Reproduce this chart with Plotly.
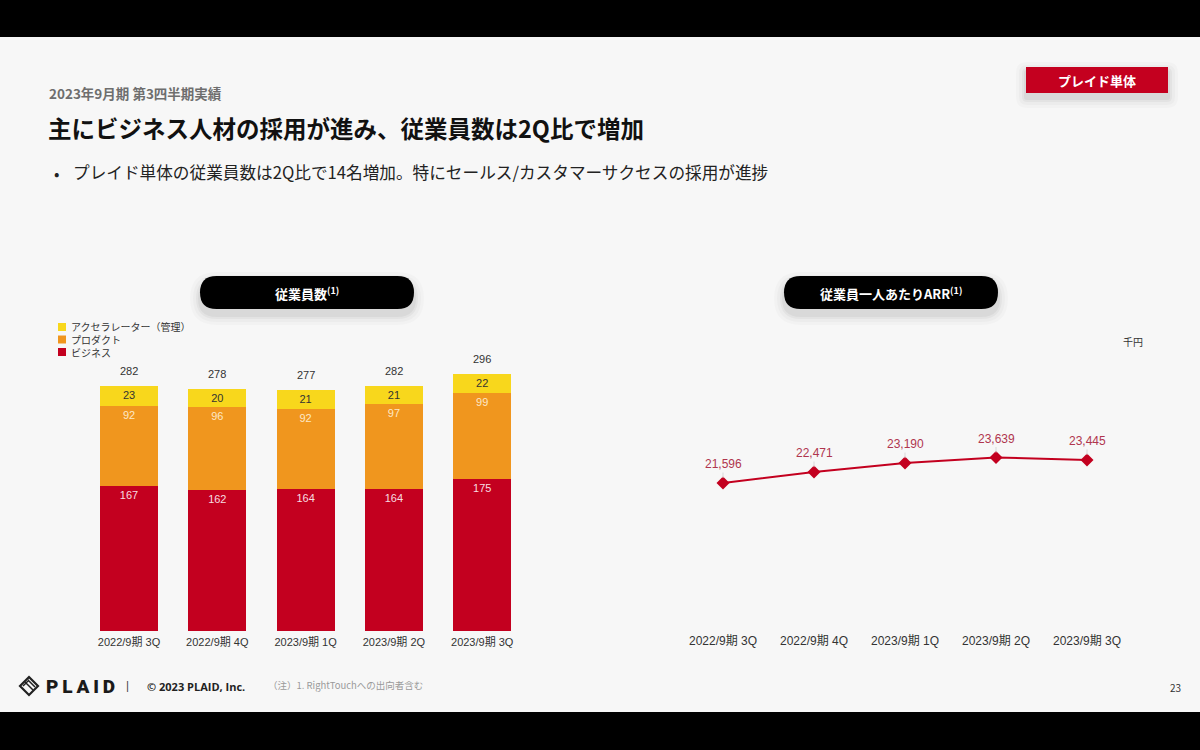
import plotly.graph_objects as go

W, H = 1200, 750


def X(px):
    return px / W


def Y(py):
    return 1 - py / H


# ---------------- data ----------------
categories = ["2022/9期 3Q", "2022/9期 4Q", "2023/9期 1Q", "2023/9期 2Q", "2023/9期 3Q"]
business = [167, 162, 164, 164, 175]
product = [92, 96, 92, 97, 99]
accelerator = [23, 20, 21, 21, 22]
totals = [282, 278, 277, 282, 296]
arr_per_employee = [21596, 22471, 23190, 23639, 23445]
series_names = ["ビジネス", "プロダクト", "アクセラレーター（管理）"]

# ---------------- styles ----------------
RED = "#c3001f"
ORANGE = "#f0961e"
YELLOW = "#f8d71c"
NUMF = "Liberation Sans, Arial, Noto Sans CJK JP"
JPF = "Noto Sans CJK JP"
BG = "#f7f7f7"

fig = go.Figure()

bar_specs = [
    (series_names[0], business, RED, "#f7dde1"),
    (series_names[1], product, ORANGE, "#fde8c6"),
    (series_names[2], accelerator, YELLOW, "#333333"),
]
for name, vals, col, tcol in bar_specs:
    fig.add_trace(go.Bar(
        x=categories, y=vals, name=name, marker=dict(color=col, line=dict(width=0)),
        width=0.657, text=[str(v) for v in vals], textposition="inside",
        insidetextanchor="end", constraintext="none", textangle=0,
        textfont=dict(family=NUMF, size=11, color=tcol),
        xaxis="x", yaxis="y", showlegend=False, hoverinfo="skip",
    ))

fig.add_trace(go.Scatter(
    x=categories, y=arr_per_employee, mode="lines+markers",
    line=dict(color=RED, width=2),
    marker=dict(symbol="diamond", size=10, color=RED),
    xaxis="x2", yaxis="y2", showlegend=False, hoverinfo="skip",
))

annotations = []
shapes = []


def ptext(px, py, text, size, color, family=JPF, xanchor="left", weight=None):
    f = dict(family=family, size=size, color=color)
    if weight is not None:
        f["weight"] = weight
    annotations.append(dict(x=X(px), y=Y(py), xref="paper", yref="paper", text=text,
                            showarrow=False, xanchor=xanchor, yanchor="middle", font=f))


# totals above bars
for c, t in zip(categories, totals):
    annotations.append(dict(x=c, y=t, xref="x", yref="y", text=str(t), showarrow=False,
                            xanchor="center", yanchor="bottom", yshift=7,
                            font=dict(family=NUMF, size=11, color="#333333")))

# line labels
for c, v in zip(categories, arr_per_employee):
    annotations.append(dict(x=c, y=v, xref="x2", yref="y2", text=f"{v:,}", showarrow=True,
                            arrowhead=0, arrowwidth=1, arrowcolor="#d9d9d9", ax=0, ay=-19,
                            standoff=5,
                            font=dict(family=NUMF, size=12, color="#b0354e")))


def rrect(x0, y0, x1, y1, r):
    pts = []
    pts.append(f"M {X(x0 + r)},{Y(y0)}")
    pts.append(f"L {X(x1 - r)},{Y(y0)}")
    pts.append(f"Q {X(x1)},{Y(y0)} {X(x1)},{Y(y0 + r)}")
    pts.append(f"L {X(x1)},{Y(y1 - r)}")
    pts.append(f"Q {X(x1)},{Y(y1)} {X(x1 - r)},{Y(y1)}")
    pts.append(f"L {X(x0 + r)},{Y(y1)}")
    pts.append(f"Q {X(x0)},{Y(y1)} {X(x0)},{Y(y1 - r)}")
    pts.append(f"L {X(x0)},{Y(y0 + r)}")
    pts.append(f"Q {X(x0)},{Y(y0)} {X(x0 + r)},{Y(y0)}")
    pts.append("Z")
    return " ".join(pts)


def shadow(x0, y0, x1, y1, r, dy=6):
    for g, a in [(10, 0.018), (7, 0.025), (4, 0.035), (2, 0.045)]:
        shapes.append(dict(type="path", xref="paper", yref="paper", layer="below",
                           path=rrect(x0 - g, y0 - g + dy, x1 + g, y1 + g + dy, r + g),
                           fillcolor=f"rgba(0,0,0,{a})", line=dict(width=0)))


# black bands
shapes.append(dict(type="rect", xref="paper", yref="paper", x0=0, x1=1, y0=Y(37), y1=1,
                   fillcolor="#000000", line=dict(width=0), layer="below"))
shapes.append(dict(type="rect", xref="paper", yref="paper", x0=0, x1=1, y0=0, y1=Y(712),
                   fillcolor="#000000", line=dict(width=0), layer="below"))

# pills
for (x0, x1, label) in [(200, 414, "従業員数<sup>(1)</sup>"), (784, 998, "従業員一人あたりARR<sup>(1)</sup>")]:
    shadow(x0, 276, x1, 309, 16.5)
    shapes.append(dict(type="path", xref="paper", yref="paper", path=rrect(x0, 276, x1, 309, 16.5),
                       fillcolor="#000000", line=dict(width=0)))
    ptext((x0 + x1) / 2, 293, f"<b>{label}</b>", 13, "#ffffff", xanchor="center")

# badge
shadow(1026, 67, 1168, 93, 1, dy=5)
shapes.append(dict(type="rect", xref="paper", yref="paper", x0=X(1026), x1=X(1168), y0=Y(93), y1=Y(67),
                   fillcolor="#c4001f", line=dict(width=0)))
ptext(1097, 80, "<b>プレイド単体</b>", 13, "#ffffff", xanchor="center")

# header texts
ptext(47, 93, "<b>2023年9月期 第3四半期実績</b>", 13.5, "#6e6e6e")
ptext(46, 128, "<b>主にビジネス人材の採用が進み、従業員数は2Q比で増加</b>", 23.5, "#111111")
ptext(52, 173, "•", 16, "#222222")
ptext(71, 172, "プレイド単体の従業員数は2Q比で14名増加。特にセールス/カスタマーサクセスの採用が進捗",
      16.65, "#222222")

# manual legend
legend_items = [(series_names[2], YELLOW, 327), (series_names[1], ORANGE, 339.5), (series_names[0], RED, 352)]
for name, col, yc in legend_items:
    shapes.append(dict(type="rect", xref="paper", yref="paper", x0=X(58), x1=X(66), y0=Y(yc + 4), y1=Y(yc - 4),
                       fillcolor=col, line=dict(width=0)))
    ptext(69, yc, name, 10, "#333333")

# unit
ptext(1133, 342, "千円", 10, "#333333", xanchor="center")

# footer
shapes.append(dict(type="path", xref="paper", yref="paper",
                   path=f"M {X(29)},{Y(677)} L {X(38)},{Y(686)} L {X(29)},{Y(695)} L {X(20)},{Y(686)} Z",
                   fillcolor="rgba(0,0,0,0)", line=dict(color="#222222", width=2.2)))
shapes.append(dict(type="path", xref="paper", yref="paper",
                   path=f"M {X(25)},{Y(682)} L {X(33)},{Y(690)} M {X(28)},{Y(680)} L {X(35)},{Y(687)} M {X(23)},{Y(686)} L {X(29)},{Y(680)}",
                   line=dict(color="#222222", width=1.5)))
ptext(44, 686, "P\u2009L\u2009A\u2009I\u2009D", 19, "#1a1a1a", family="Roboto", weight=900)
ptext(127, 685, "|", 12, "#333333", family="Lato", xanchor="center")
ptext(145, 686, "<b>© 2023 PLAID, Inc.</b>", 11, "#222222", family="Open Sans")
ptext(266, 685, "（注）1. RightTouchへの出向者含む", 9.5, "#9a9a9a")
ptext(1175, 687, "23", 10, "#333333", xanchor="center")

axis_common = dict(type="category", showgrid=False, zeroline=False, showline=False, ticks="",
                   range=[-0.5, 4.5], fixedrange=True)

fig.update_layout(
    width=W, height=H, margin=dict(l=0, r=0, t=0, b=0),
    paper_bgcolor=BG, plot_bgcolor="rgba(0,0,0,0)",
    barmode="stack", bargap=0.343,
    showlegend=False,
    xaxis=dict(domain=[X(84.85), X(526.35)], anchor="y", ticklabelstandoff=3,
               tickfont=dict(family=NUMF, size=11, color="#333333"), **axis_common),
    yaxis=dict(domain=[Y(631), Y(353)], range=[0, 320], visible=False, anchor="x"),
    xaxis2=dict(domain=[X(677.5), X(1132.5)], anchor="y2", ticklabelstandoff=1,
                tickfont=dict(family=NUMF, size=12, color="#333333"), **axis_common),
    yaxis2=dict(domain=[Y(631), Y(353)], range=[9737, 32012], visible=False, anchor="x2"),
    annotations=annotations, shapes=shapes,
)

fig.write_html(
    "out.html",
    config={"displayModeBar": False},
    post_script="document.body.style.margin='0';document.body.style.overflow='hidden';",
)
